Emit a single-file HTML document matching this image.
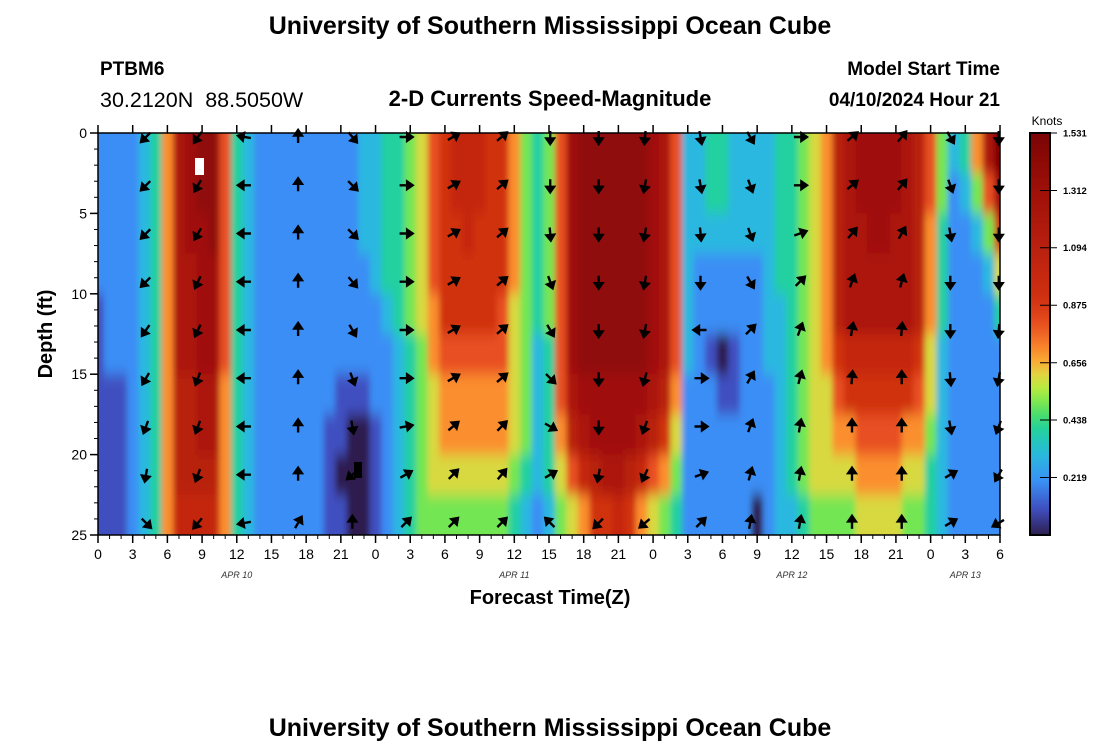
<!DOCTYPE html>
<html><head><meta charset="utf-8"><style>
body{margin:0;background:#fff;width:1100px;height:750px;overflow:hidden;font-family:"Liberation Sans",sans-serif}
svg text{font-family:"Liberation Sans",sans-serif}
</style></head><body>
<svg id="chart" width="1100" height="750" xmlns="http://www.w3.org/2000/svg">
<text x="550" y="34" text-anchor="middle" font-size="25" font-weight="bold">University of Southern Mississippi Ocean Cube</text>
<text x="100" y="75" font-size="19" font-weight="bold">PTBM6</text>
<text x="100" y="107" font-size="21.5">30.2120N&#160; 88.5050W</text>
<text x="550" y="106" text-anchor="middle" font-size="22" font-weight="bold">2-D Currents Speed-Magnitude</text>
<text x="1000" y="75" text-anchor="end" font-size="19" font-weight="bold">Model Start Time</text>
<text x="1000" y="106" text-anchor="end" font-size="19" font-weight="bold">04/10/2024 Hour 21</text>
<text x="550" y="736" text-anchor="middle" font-size="25" font-weight="bold">University of Southern Mississippi Ocean Cube</text>
<defs><clipPath id="pc"><rect x="98" y="133" width="902" height="402"/></clipPath>
<filter id="bl" filterUnits="userSpaceOnUse" x="60" y="100" width="980" height="470"><feGaussianBlur stdDeviation="3 7"/></filter>
<linearGradient id="cb" x1="0" y1="1" x2="0" y2="0"></linearGradient></defs>
<g clip-path="url(#pc)"><g id="cells" filter="url(#bl)"></g><g id="marks"></g></g>
<g id="arrows"></g>
<g id="axes"></g>
<text x="550" y="604" text-anchor="middle" font-size="20" font-weight="bold">Forecast Time(Z)</text>
<text transform="translate(52,334) rotate(-90)" text-anchor="middle" font-size="20" font-weight="bold">Depth (ft)</text>
<text x="1047" y="125" text-anchor="middle" font-size="12">Knots</text>
<rect x="1030" y="133" width="20" height="402" fill="url(#cb)" stroke="#000" stroke-width="2"/>
<g id="cbticks"></g>
</svg>
<script>
// hours 0..78 from APR 10 00Z; rows every 2.5 ft; hex digit = speed*10 knots
const speedRows = [
"22223"+"47cdee843"+"2222222"+"223344568"+"9aaa9"+"975458"+"deeeeeed"+"c8"+"33443333"+"44567"+"bcddddcb"+"85347cf",
"22223"+"47cdee843"+"2222222"+"223344568"+"9aaa9"+"975458"+"deeeeeed"+"c8"+"33443333"+"44567"+"bcddddcb"+"852358d",
"22223"+"47cdde843"+"2222222"+"223344568"+"99a99"+"975458"+"deeeeeed"+"c8"+"33333333"+"44567"+"bccddccb"+"7422359",
"22223"+"47ccdd843"+"2222222"+"222344568"+"99999"+"975458"+"deeeeeed"+"c8"+"32222223"+"44567"+"bccccccb"+"7422236",
"12223"+"47ccdd843"+"2222222"+"222234567"+"99999"+"865458"+"deeeeeed"+"c8"+"32222223"+"34567"+"bccccccb"+"7422224",
"12223"+"47ccdd843"+"2222222"+"222223457"+"88888"+"865348"+"deeeeeed"+"c8"+"32101223"+"34567"+"9aaaaaa9"+"6322222",
"11123"+"47bbcc743"+"2222222"+"111223456"+"77777"+"765348"+"cddddddc"+"b7"+"22211222"+"34566"+"89999998"+"6322222",
"11123"+"47bbcc743"+"2222221"+"100123456"+"77777"+"765347"+"bcddddcb"+"96"+"22222222"+"34566"+"77888877"+"5322222",
"11123"+"47bbbb743"+"2222221"+"000123456"+"66666"+"654346"+"8abccba8"+"75"+"22222222"+"34566"+"66777766"+"4322222",
"11123"+"47aaaa743"+"2222221"+"100123455"+"55555"+"543235"+"6799a976"+"54"+"22222202"+"33455"+"55666655"+"4322222"
];
const arrowHours = [4.15,8.65,12.7,17.3,22,26.6,30.7,34.9,39.1,43.3,47.3,52.1,56.4,60.7,65.2,69.5,73.7,77.9];
const arrowDepths = [0.25,3.25,6.25,9.25,12.25,15.25,18.25,21.25,24.25];
const arrowDirs = [
[225,225,225,225,215,210,200,190,135],[215,210,210,205,205,200,200,200,220],
[280,270,270,270,270,270,270,270,260],[0,0,0,0,0,0,0,0,30],
[140,135,135,140,150,160,170,230,0],[90,90,90,90,90,90,80,60,45],
[60,60,60,60,60,60,50,45,45],[50,50,50,50,50,50,45,40,45],
[180,180,175,160,150,135,120,60,315],[180,180,180,180,180,180,180,190,225],
[185,190,190,190,190,195,200,205,230],[170,170,175,180,270,90,90,70,45],
[150,160,160,150,45,30,20,15,10],[90,90,70,45,20,15,10,10,10],
[50,50,40,20,10,5,0,0,0],[40,40,30,15,5,0,0,0,0],
[150,160,170,180,180,175,170,60,60],[180,180,180,180,185,190,200,210,240]
];
const xTickLabels = ["0","3","6","9","12","15","18","21","0","3","6","9","12","15","18","21","0","3","6","9","12","15","18","21","0","3","6"];
const yTickLabels = [0,5,10,15,20,25];
const dateLabels = ["APR 10","APR 11","APR 12","APR 13"];
const dateHours = [12,36,60,75];
const cbTicks = [0.219,0.438,0.656,0.875,1.094,1.312,1.531];
const VMAX = 1.531;

const NS="http://www.w3.org/2000/svg";
const X0=98,X1=1000,Y0=133,Y1=535,HMAX=78,DMAX=25;
const xs=h=>X0+(X1-X0)*h/HMAX, ys=d=>Y0+(Y1-Y0)*d/DMAX;
const stops=[[0,[46,31,79]],[0.1,[63,79,192]],[0.2,[58,142,245]],[0.3,[42,184,224]],[0.4,[32,208,160]],[0.48,[90,226,90]],[0.55,[176,240,64]],[0.62,[232,208,64]],[0.68,[255,154,48]],[0.8,[232,80,32]],[0.9,[208,48,16]],[1.1,[184,32,16]],[1.3,[160,16,8]],[1.531,[122,5,5]]];
function col(v){v=Math.max(0,Math.min(VMAX,v));for(let i=1;i<stops.length;i++){if(v<=stops[i][0]){const a=stops[i-1],b=stops[i],t=(v-a[0])/(b[0]-a[0]);return "rgb("+a[1].map((c,k)=>Math.round(c+(b[1][k]-c)*t)).join(",")+")";}}return "rgb(122,5,5)";}
function mk(tag,attrs,parent){const e=document.createElementNS(NS,tag);for(const k in attrs)e.setAttribute(k,attrs[k]);parent.appendChild(e);return e;}
const g=document.getElementById("cells");
const rowH=DMAX/speedRows.length;
speedRows.forEach((row,r)=>{for(let h=0;h<row.length;h++){const v=parseInt(row[h],16)/10;
let x=xs(h-0.5),x2=xs(h+0.5),y=ys(r*rowH),y2=ys((r+1)*rowH);
if(h===0)x-=25; if(h===row.length-1)x2+=25; if(r===0)y-=25; if(r===speedRows.length-1)y2+=25;
const e=mk("rect",{x:x.toFixed(2),y:y.toFixed(2),width:(x2-x+0.6).toFixed(2),height:(y2-y+0.6).toFixed(2),fill:col(v)},g);

}});
const gm=document.getElementById("marks");
const wr=mk("rect",{x:195,y:158,width:9,height:17,fill:"#fff"},gm);


const br=mk("rect",{x:354,y:462,width:8,height:16,fill:"#000"},gm);


const ga=document.getElementById("arrows");
arrowHours.forEach((h,i)=>arrowDepths.forEach((d,j)=>{
const a=mk("path",{d:"M0,6 L0,-2 M-3.8,-1.5 L0,-7 L3.8,-1.5 Z",stroke:"#000","stroke-width":2.4,fill:"#000","stroke-linejoin":"miter",transform:`translate(${xs(h).toFixed(1)},${ys(d).toFixed(1)}) rotate(${arrowDirs[i][j]})`},ga);

}));
const ax=document.getElementById("axes");
const fr=mk("rect",{x:X0,y:Y0,width:X1-X0,height:Y1-Y0,fill:"none",stroke:"#000","stroke-width":1.5},ax);


xTickLabels.forEach((l,i)=>{const x=xs(i*3);
mk("line",{x1:x,x2:x,y1:Y0-8,y2:Y0,stroke:"#000","stroke-width":1.5},ax);
mk("line",{x1:x,x2:x,y1:Y1,y2:Y1+8,stroke:"#000","stroke-width":1.5},ax);
const t=mk("text",{x:x,y:Y1+24,"text-anchor":"middle","font-size":14},ax);t.textContent=l;

});
for(let h=0;h<=HMAX;h++){mk("line",{x1:xs(h),x2:xs(h),y1:Y1,y2:Y1+4,stroke:"#000"},ax);}
for(let d=0;d<=DMAX;d++){mk("line",{x1:X0-4,x2:X0,y1:ys(d),y2:ys(d),stroke:"#000"},ax);}
yTickLabels.forEach(v=>{const y=ys(v);
mk("line",{x1:X0-8,x2:X0,y1:y,y2:y,stroke:"#000","stroke-width":1.5},ax);
const t=mk("text",{x:X0-11,y:y+5,"text-anchor":"end","font-size":14},ax);t.textContent=v;

});
dateLabels.forEach((l,i)=>{const t=mk("text",{x:xs(dateHours[i]),y:578,"text-anchor":"middle","font-size":9,"font-style":"italic","font-family":"Liberation Mono, monospace",fill:"#333"},ax);t.textContent=l;

});
const grad=document.getElementById("cb");
for(let i=0;i<=30;i++){const v=VMAX*i/30;mk("stop",{offset:(i/30),"stop-color":col(v)},grad);}
const ct=document.getElementById("cbticks");
cbTicks.forEach(v=>{const y=535-402*v/VMAX;
mk("line",{x1:1040,x2:1057,y1:y,y2:y,stroke:"#000","stroke-width":1},ct);
const t=mk("text",{x:1063,y:y+3.5,"font-size":9.5,"font-weight":"bold"},ct);t.textContent=v.toFixed(3);

});
</script>
</body></html>
